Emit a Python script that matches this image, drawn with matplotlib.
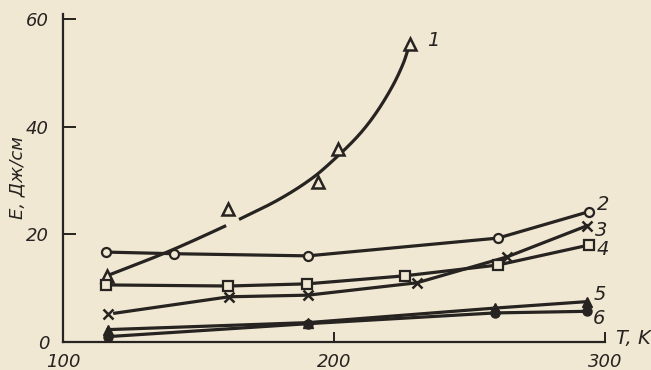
import numpy as np
import matplotlib
matplotlib.use("Agg")
import matplotlib.pyplot as plt

# Temperature (K) and fracture energy E (J/cm) for six materials
t1 = [116.2, 160.9, 194.2, 201.6, 228.0]
e1 = [12.3, 24.7, 29.8, 35.8, 55.4]
# trend line drawn through series 1
t1_trend = [116.2, 138.4, 160.1, 164.7, 180.1, 192.4, 199.8, 210.8, 219.4,
            225.6, 228.0]
e1_trend = [12.3, 16.7, 21.6, 22.7, 26.6, 30.6, 33.8, 39.4, 45.6, 51.8,
            55.4]

t2 = [116.0, 141.0, 190.4, 260.5, 294.0]
e2 = [16.7, 16.4, 16.0, 19.3, 24.2]

t3 = [116.6, 161.3, 190.4, 230.6, 263.8, 293.4]
e3 = [5.2, 8.4, 8.7, 11.0, 15.8, 21.6]

t4 = [116.0, 161.0, 190.0, 226.2, 260.5, 294.0]
e4 = [10.6, 10.4, 10.8, 12.3, 14.3, 18.0]

t5 = [116.6, 190.4, 259.4, 293.4]
e5 = [2.3, 3.6, 6.3, 7.5]

t6 = [116.6, 190.4, 259.4, 293.4]
e6 = [1.0, 3.4, 5.4, 5.7]

curve_labels = ["1", "2", "3", "4", "5", "6"]
x_ticks = [100, 200, 300]
y_ticks = [0, 20, 40, 60]

paper = "#f1e8d4"
ink = "#262320"
font = ["Liberation Sans Narrow", "DejaVu Sans"]


def pchip(x, y, xs):
    """Monotone piecewise-cubic Hermite curve through (x, y)."""
    x = np.asarray(x, float)
    y = np.asarray(y, float)
    h = np.diff(x)
    delta = np.diff(y) / h
    d = np.zeros_like(y)
    d[0], d[-1] = delta[0], delta[-1]
    for k in range(1, len(x) - 1):
        if delta[k - 1] * delta[k] <= 0:
            d[k] = 0.0
        else:
            w1 = 2 * h[k] + h[k - 1]
            w2 = h[k] + 2 * h[k - 1]
            d[k] = (w1 + w2) / (w1 / delta[k - 1] + w2 / delta[k])
    idx = np.clip(np.searchsorted(x, xs) - 1, 0, len(x) - 2)
    s = (xs - x[idx]) / h[idx]
    h00 = 2 * s**3 - 3 * s**2 + 1
    h10 = s**3 - 2 * s**2 + s
    h01 = -2 * s**3 + 3 * s**2
    h11 = s**3 - s**2
    return (h00 * y[idx] + h10 * h[idx] * d[idx] + h01 * y[idx + 1]
            + h11 * h[idx] * d[idx + 1])


fig = plt.figure(figsize=(6.51, 3.70), dpi=100, facecolor=paper)
ax = fig.add_axes([63 / 651, 28 / 370, 542 / 651, 328.4 / 370])
ax.set_facecolor(paper)
ax.set_xlim(100, 300)
ax.set_ylim(0, 61)

lw = 2.3

# series 1: smooth trend with a break near the stray point
tt = np.linspace(t1_trend[0], t1_trend[-1], 400)
ee = pchip(t1_trend, e1_trend, tt)
ee[(tt > 160.3) & (tt < 164.9)] = np.nan
ax.plot(tt, ee, color=ink, lw=lw, solid_capstyle="butt", zorder=2)
ax.plot(t1, e1, linestyle="none", marker="^", ms=9, mfc=paper, mec=ink,
        mew=1.8, zorder=3)

# series 2-4: open markers joined by straight segments
ax.plot(t2, e2, color=ink, lw=lw, marker="o", ms=6.5, mfc=paper, mec=ink,
        mew=1.6, zorder=3)
ax.plot(t3[1:], e3[1:], color=ink, lw=lw, zorder=2)
ax.plot([t3[0] + 2.5, t3[1]], [e3[0] + 0.15, e3[1]], color=ink, lw=lw, zorder=2)
ax.plot(t3, e3, linestyle="none", marker="x", ms=6.5, mec=ink, mew=1.8,
        zorder=3)
ax.plot(t4, e4, color=ink, lw=lw, marker="s", ms=7.5, mfc=paper, mec=ink,
        mew=1.6, zorder=3)

# series 5-6: filled markers
ax.plot(t5, e5, color=ink, lw=lw, marker="^", ms=7.5, mfc=ink, mec=ink,
        zorder=3)
ax.plot(t6, e6, color=ink, lw=lw, marker="o", ms=6.5, mfc=ink, mec=ink,
        zorder=3)

# curve numbers
ends = [(t1[-1], e1[-1]), (t2[-1], e2[-1]), (t3[-1], e3[-1]),
        (t4[-1], e4[-1]), (t5[-1], e5[-1]), (t6[-1], e6[-1])]
offsets = [(6.5, 0.6), (3.0, 1.3), (3.0, -0.8), (3.0, -0.8), (2.5, 1.3),
           (2.0, -1.4)]
for lab, (tx, ey), (dx, dy) in zip(curve_labels, ends, offsets):
    ax.text(tx + dx, ey + dy, lab, fontsize=14, style="italic", family=font,
            color=ink, ha="left", va="center")

# axes styling
for side in ("top", "right"):
    ax.spines[side].set_visible(False)
for side in ("left", "bottom"):
    ax.spines[side].set_color(ink)
    ax.spines[side].set_linewidth(1.6)

ax.set_xticks(x_ticks)
ax.set_yticks(y_ticks)
ax.tick_params(axis="x", direction="in", length=7, width=1.4, color=ink,
               pad=8, labelsize=13, labelcolor=ink)
ax.tick_params(axis="y", direction="in", length=9, width=1.4, color=ink,
               pad=10, labelsize=13, labelcolor=ink)
for lbl in ax.get_xticklabels() + ax.get_yticklabels():
    lbl.set_family(font)
    lbl.set_style("italic")

ax.set_ylabel("E, Дж/см", fontsize=13, style="italic", family=font,
              color=ink, labelpad=0)
ax.text(304, 0.6, "T, K", fontsize=14, style="italic", family=font,
        color=ink, ha="left", va="center")

fig.savefig("out.png", dpi=100, facecolor=paper)
